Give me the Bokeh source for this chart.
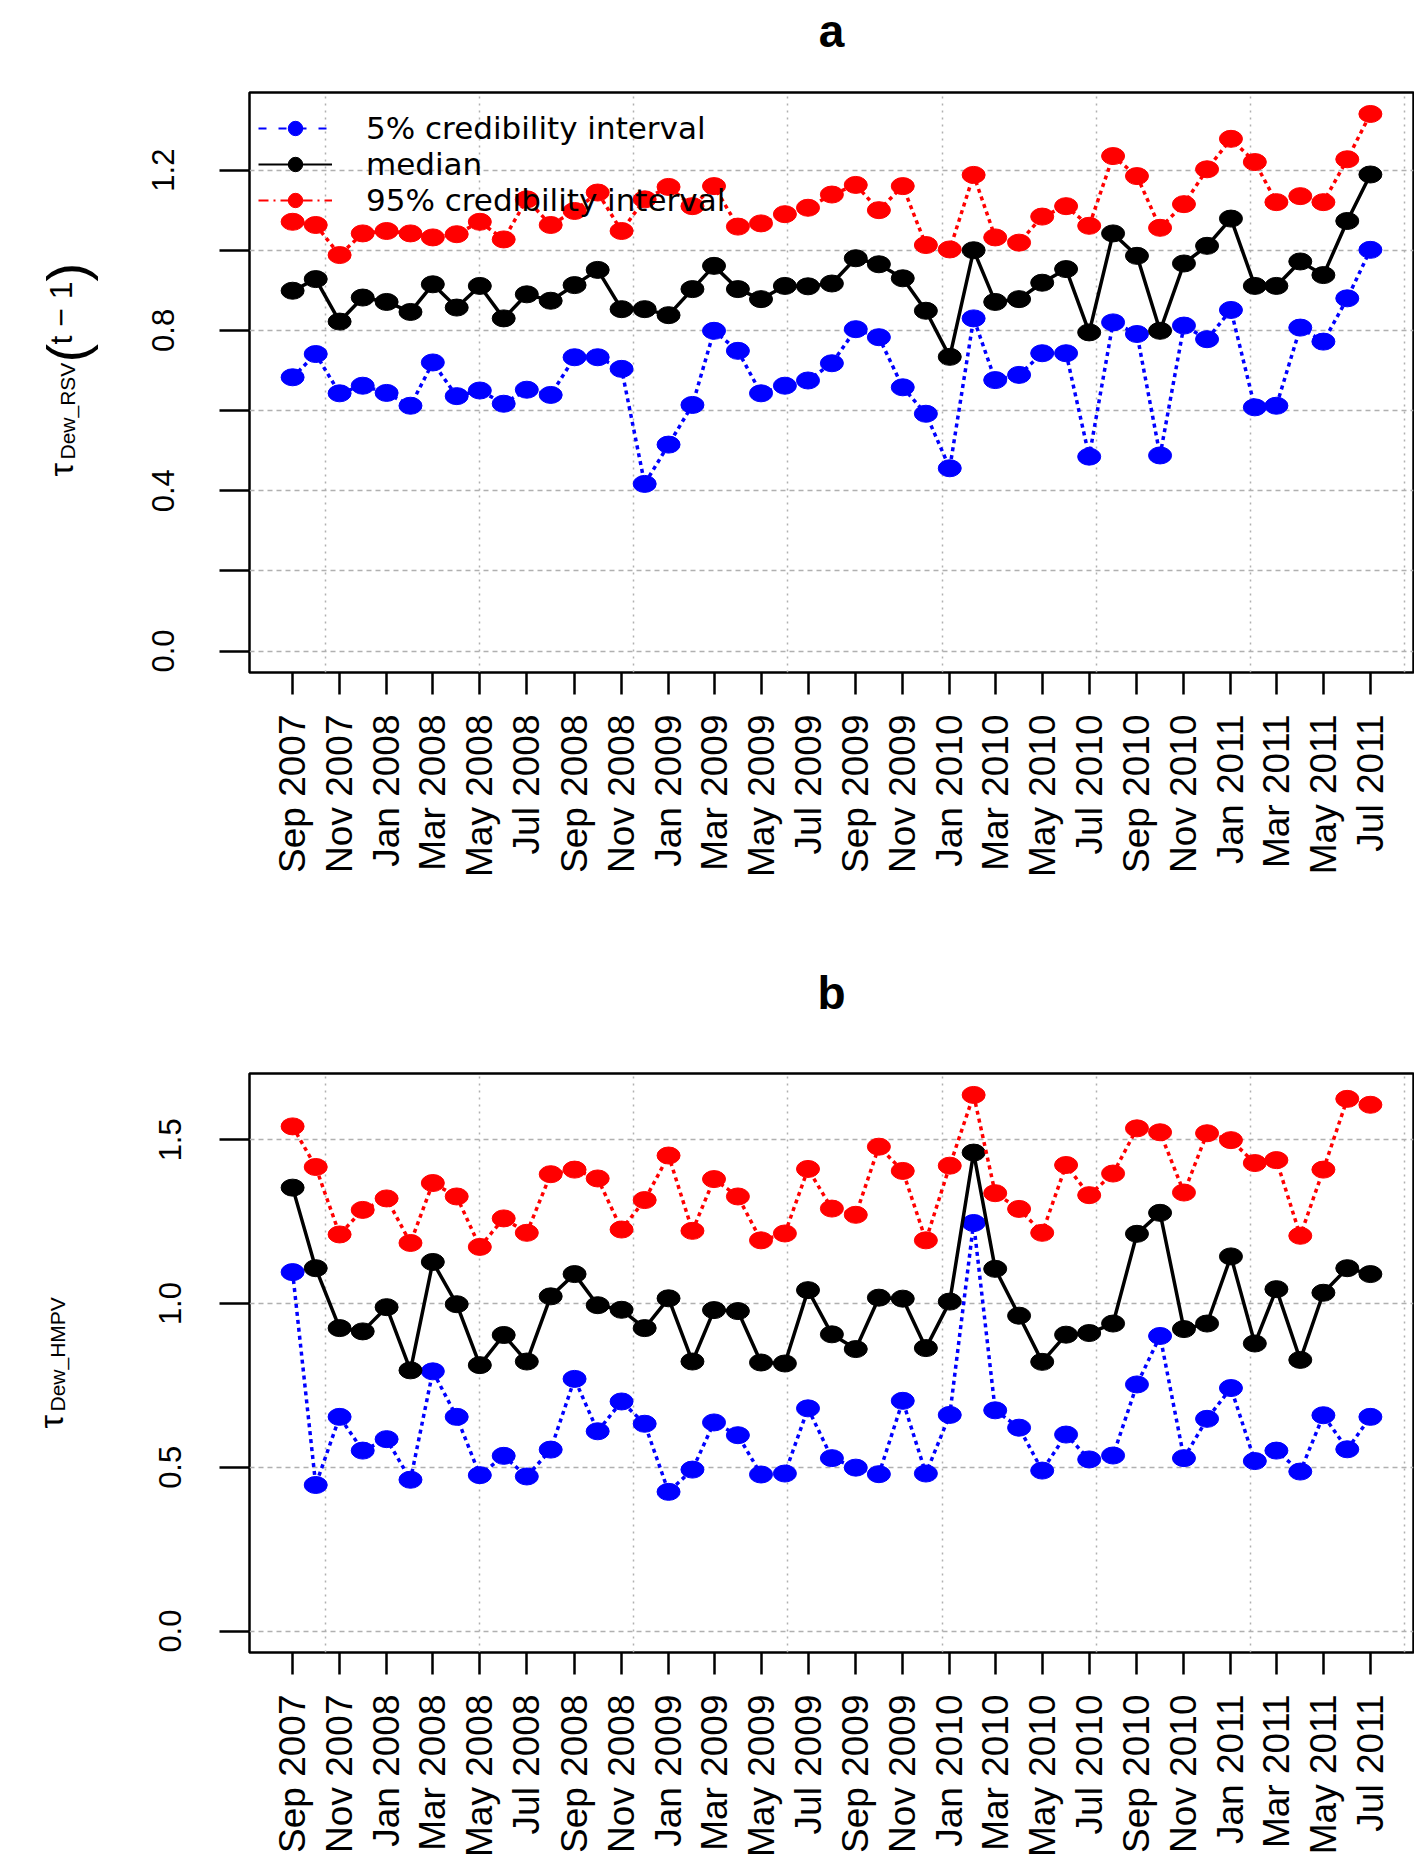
import math
import numpy as np
import pandas as pd
from bokeh.plotting import figure
from bokeh.layouts import column, row
from bokeh.models import Range1d, FixedTicker, Label, Legend, LegendItem, ColumnDataSource
from bokeh.embed import file_html
from bokeh.resources import INLINE

# ---------------- data ----------------
first_month = "2007-09-01"
n_months = 47
x_tick_labels = ["Sep 2007", "Nov 2007", "Jan 2008", "Mar 2008", "May 2008", "Jul 2008",
                 "Sep 2008", "Nov 2008", "Jan 2009", "Mar 2009", "May 2009", "Jul 2009",
                 "Sep 2009", "Nov 2009", "Jan 2010", "Mar 2010", "May 2010", "Jul 2010",
                 "Sep 2010", "Nov 2010", "Jan 2011", "Mar 2011", "May 2011", "Jul 2011"]

rsv_lower = [0.683, 0.741, 0.643, 0.662, 0.644, 0.612, 0.720, 0.636, 0.650, 0.617,
             0.652, 0.639, 0.733, 0.733, 0.704, 0.417, 0.515, 0.614, 0.799, 0.749,
             0.643, 0.662, 0.675, 0.718, 0.803, 0.783, 0.658, 0.592, 0.456, 0.830,
             0.676, 0.689, 0.743, 0.743, 0.485, 0.820, 0.791, 0.488, 0.812, 0.778,
             0.851, 0.608, 0.612, 0.807, 0.772, 0.880, 1.001]
rsv_median = [0.899, 0.928, 0.822, 0.882, 0.871, 0.846, 0.915, 0.857, 0.911, 0.830,
              0.890, 0.874, 0.913, 0.951, 0.853, 0.853, 0.838, 0.903, 0.961, 0.903,
              0.878, 0.911, 0.910, 0.917, 0.980, 0.965, 0.930, 0.849, 0.734, 1.000,
              0.871, 0.878, 0.919, 0.953, 0.795, 1.042, 0.986, 0.799, 0.967, 1.011,
              1.079, 0.911, 0.911, 0.972, 0.938, 1.073, 1.189]
rsv_upper = [1.071, 1.063, 0.988, 1.042, 1.048, 1.042, 1.032, 1.040, 1.071, 1.027,
             1.127, 1.063, 1.098, 1.144, 1.048, 1.127, 1.158, 1.110, 1.160, 1.059,
             1.067, 1.090, 1.106, 1.139, 1.163, 1.100, 1.160, 1.013, 1.002, 1.188,
             1.032, 1.019, 1.084, 1.110, 1.061, 1.235, 1.185, 1.056, 1.115, 1.202,
             1.278, 1.220, 1.120, 1.135, 1.120, 1.227, 1.340]

hmpv_lower = [1.096, 0.446, 0.654, 0.551, 0.586, 0.462, 0.793, 0.654, 0.476, 0.535,
              0.472, 0.554, 0.770, 0.610, 0.701, 0.633, 0.425, 0.493, 0.637, 0.598,
              0.478, 0.481, 0.680, 0.528, 0.499, 0.479, 0.703, 0.481, 0.660, 1.246,
              0.674, 0.621, 0.490, 0.600, 0.524, 0.536, 0.753, 0.901, 0.528, 0.648,
              0.742, 0.519, 0.551, 0.487, 0.659, 0.555, 0.654]
hmpv_median = [1.354, 1.108, 0.925, 0.915, 0.989, 0.796, 1.127, 0.998, 0.812, 0.904,
               0.823, 1.022, 1.090, 0.995, 0.981, 0.925, 1.016, 0.823, 0.980, 0.977,
               0.820, 0.817, 1.041, 0.906, 0.861, 1.018, 1.015, 0.864, 1.006, 1.461,
               1.106, 0.963, 0.822, 0.905, 0.910, 0.939, 1.213, 1.277, 0.922, 0.939,
               1.144, 0.878, 1.044, 0.828, 1.033, 1.108, 1.090]
hmpv_upper = [1.541, 1.417, 1.211, 1.286, 1.321, 1.185, 1.368, 1.327, 1.173, 1.260,
              1.216, 1.395, 1.409, 1.382, 1.226, 1.316, 1.452, 1.222, 1.380, 1.327,
              1.193, 1.214, 1.411, 1.290, 1.271, 1.479, 1.405, 1.193, 1.421, 1.637,
              1.337, 1.289, 1.216, 1.423, 1.331, 1.397, 1.535, 1.523, 1.339, 1.520,
              1.499, 1.429, 1.438, 1.207, 1.409, 1.625, 1.607]

rsv_y_ticks = [0.0, 0.2, 0.4, 0.6, 0.8, 1.0, 1.2]
rsv_y_tick_labels = ["0.0", " ", "0.4", " ", "0.8", " ", "1.2"]
hmpv_y_ticks = [0.0, 0.5, 1.0, 1.5]
hmpv_y_tick_labels = ["0.0", "0.5", "1.0", "1.5"]
legend_labels = ["5% credibility interval", "median", "95% credibility interval"]
grid_step_days = 200

# ---------------- derived ----------------
months = pd.date_range(first_month, periods=n_months, freq="MS")
x_days = np.asarray((months - pd.Timestamp("1970-01-01")).days, dtype=float)
tick_days = x_days[::2]

FONT = "Liberation Sans"
LEGEND_FONT = "DejaVu Sans"
BLUE, BLACK, RED = "#0000ff", "#000000", "#ff0000"
GRID = "#b0b0b0"
TOTAL_W = 1414
LAB_W = 100          # width of the y-label strip (page x 0..100)
MAIN_W = TOTAL_W - LAB_W
BL, BR = 149, 1      # main figure borders -> frame from page x 249 to 1413
TITLE_FIX = 16       # empirical baseline correction for header labels


def blank_fig(width, height, top=0, bottom=0):
    f = figure(width=width, height=height, x_range=Range1d(0, 1), y_range=Range1d(0, 1),
               x_axis_location=None, y_axis_location=None, toolbar_location=None,
               output_backend="svg", min_border=0, min_border_left=0, min_border_right=0,
               min_border_top=top, min_border_bottom=bottom)
    f.outline_line_color = None
    f.grid.visible = False
    f.background_fill_color = "white"
    f.border_fill_color = "white"
    return f


def add_text(p, x, y, text, size, font=FONT, bold=False, angle=0.0, align="left"):
    p.add_layout(Label(x=x, y=y, x_units="screen", y_units="screen", text=text,
                       text_font=font, text_font_size=f"{size}px",
                       text_font_style="bold" if bold else "normal",
                       text_color="black", angle=angle,
                       text_align=align, text_baseline="alphabetic"))


def make_block(lower, median, upper, yticks, ytick_labels, title, ylabel_parts,
               page_top, header_h, body_h, frame_h, title_baseline_page, with_legend):
    border_top = 2
    border_bottom = body_h - border_top - frame_h
    frame_bottom_page = page_top + header_h + border_top + frame_h

    # ---- header with the panel letter ----
    header = blank_fig(TOTAL_W, header_h)
    frame_center_page = LAB_W + BL + (MAIN_W - BL - BR) / 2
    add_text(header, frame_center_page,
             page_top + header_h - (title_baseline_page - TITLE_FIX),
             title, 46, bold=True, align="center")

    # ---- y-label strip (same vertical borders as the plot) ----
    lab = blank_fig(LAB_W, body_h, top=border_top, bottom=border_bottom)
    for text, size, bx_page, start_page in ylabel_parts:
        add_text(lab, bx_page, frame_bottom_page - start_page, text, size, angle=math.pi / 2)

    # ---- main plot ----
    span = x_days.max() - x_days.min()
    xr = Range1d(x_days.min() - 0.04 * span, x_days.max() + 0.04 * span)
    ymax = max(upper)
    yr = Range1d(-0.04 * ymax, 1.04 * ymax)

    p = figure(width=MAIN_W, height=body_h, x_range=xr, y_range=yr,
               output_backend="svg", toolbar_location=None,
               min_border_left=BL, min_border_right=BR,
               min_border_top=border_top, min_border_bottom=border_bottom)
    p.background_fill_color = "white"
    p.border_fill_color = "white"
    p.outline_line_color = "black"
    p.outline_line_width = 2.5
    p.outline_line_alpha = 1.0

    gstart = math.ceil(xr.start / grid_step_days) * grid_step_days
    p.xgrid.ticker = FixedTicker(ticks=list(np.arange(gstart, xr.end, grid_step_days)))
    p.xgrid.grid_line_color = GRID
    p.xgrid.grid_line_dash = "2 5"
    p.xgrid.grid_line_width = 1.5
    p.ygrid.ticker = FixedTicker(ticks=yticks)
    p.ygrid.grid_line_color = GRID
    p.ygrid.grid_line_dash = "5 4"
    p.ygrid.grid_line_width = 1.5

    xa = p.xaxis[0]
    xa.ticker = FixedTicker(ticks=list(tick_days))
    xa.major_label_overrides = {float(d): s for d, s in zip(tick_days, x_tick_labels)}
    xa.major_label_orientation = math.pi / 2
    xa.major_label_text_font = FONT
    xa.major_label_text_font_size = "37px"
    xa.major_label_text_color = "black"
    xa.major_label_standoff = 20
    xa.major_tick_out = 22
    xa.major_tick_in = 0
    xa.minor_tick_out = 0
    xa.minor_tick_in = 0
    xa.major_tick_line_width = 2.5
    xa.major_tick_line_color = "black"
    xa.axis_line_color = None

    ya = p.yaxis[0]
    ya.ticker = FixedTicker(ticks=yticks)
    ya.major_label_overrides = {float(t): s for t, s in zip(yticks, ytick_labels)}
    ya.major_label_orientation = "parallel"
    ya.major_label_text_font = FONT
    ya.major_label_text_font_size = "31px"
    ya.major_label_text_color = "black"
    ya.major_label_standoff = 38
    ya.major_tick_out = 30
    ya.major_tick_in = 0
    ya.minor_tick_out = 0
    ya.minor_tick_in = 0
    ya.major_tick_line_width = 2.5
    ya.major_tick_line_color = "black"
    ya.axis_line_color = None

    src = ColumnDataSource(dict(x=x_days, lower=lower, median=median, upper=upper))
    for col, color, dash in [("lower", BLUE, "4 4"), ("median", BLACK, "solid"),
                             ("upper", RED, "4 4")]:
        p.line("x", col, source=src, line_color=color, line_width=3.5, line_dash=dash)
        p.ellipse("x", col, source=src, width=23, height=17,
                  width_units="screen", height_units="screen",
                  fill_color=color, line_color=color)

    if with_legend:
        legend_dashes = ["8 12", "solid", "10 5 2 5"]
        colors = [BLUE, BLACK, RED]
        row_h = 36
        for i, (text, col, dash) in enumerate(zip(legend_labels, colors, legend_dashes)):
            r_line = p.line([np.nan], [np.nan], line_color=col, line_width=2, line_dash=dash)
            r_mark = p.scatter([np.nan], [np.nan], marker="circle",
                               fill_color=col, line_color=col)
            row_center = 36 + i * row_h      # below frame top
            leg = Legend(items=[LegendItem(label=text, renderers=[r_line, r_mark])],
                         location=(9, frame_h - row_center - row_h / 2),
                         border_line_color=None, background_fill_alpha=0.0,
                         padding=0, margin=0, spacing=0,
                         glyph_width=74, glyph_height=row_h, label_height=row_h,
                         label_standoff=34,
                         label_text_font=LEGEND_FONT, label_text_font_size="31px",
                         label_text_color="black")
            p.add_layout(leg)

    return column(header, row(lab, p, spacing=0), spacing=0)


block_a = make_block(rsv_lower, rsv_median, rsv_upper, rsv_y_ticks, rsv_y_tick_labels, "a",
                     [("τ", 34, 60, 476), ("Dew_RSV", 21, 67, 459), ("(", 56, 66, 362),
                      ("t − 1", 32, 60, 344), (")", 56, 66, 281)],
                     page_top=0, header_h=90, body_h=838, frame_h=580,
                     title_baseline_page=46, with_legend=True)
block_b = make_block(hmpv_lower, hmpv_median, hmpv_upper, hmpv_y_ticks, hmpv_y_tick_labels, "b",
                     [("τ", 34, 50, 1428), ("Dew_HMPV", 21, 57, 1411)],
                     page_top=928, header_h=143, body_h=788, frame_h=579,
                     title_baseline_page=1008, with_legend=False)

layout = column(block_a, block_b, spacing=0)
open("out.html", "w").write(file_html(layout, INLINE))
